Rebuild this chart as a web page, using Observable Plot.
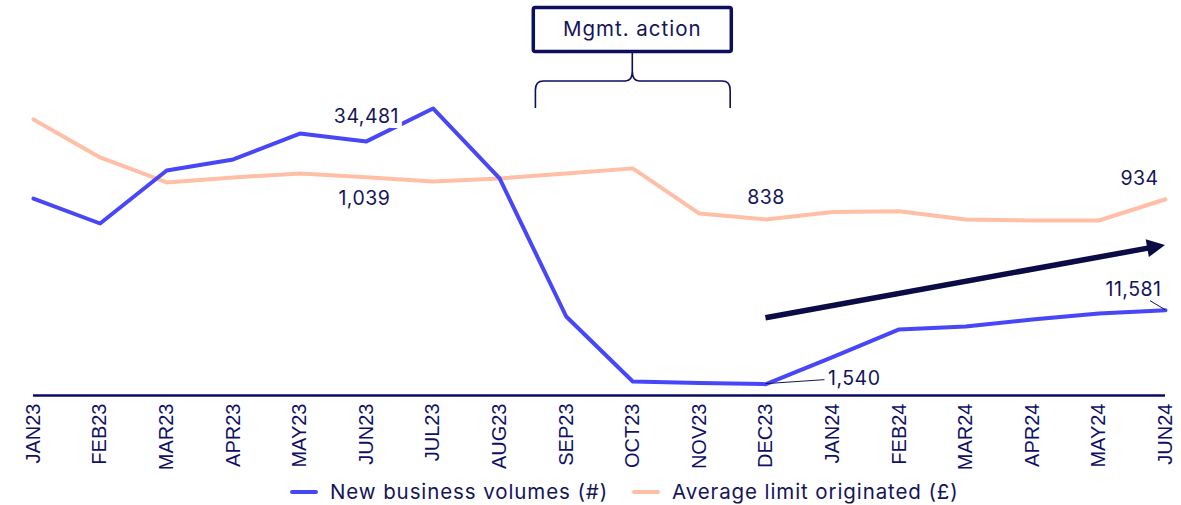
<!DOCTYPE html>
<html><head><meta charset="utf-8">
<script src="https://cdn.jsdelivr.net/npm/d3@7"></script>
<script src="https://cdn.jsdelivr.net/npm/@observablehq/plot@0.6"></script>
<style>
body{margin:0;background:#fff;}
#chart{position:relative;width:1181px;height:505px;overflow:hidden;}
.legend{position:absolute;left:290px;top:478px;height:27px;display:flex;align-items:center;font-family:Inter,"Noto Sans",sans-serif;font-size:20.5px;letter-spacing:0.9px;color:#14145a;white-space:nowrap;}
.legend .sw{display:inline-block;width:28px;height:4px;border-radius:2px;margin-right:12px;}
.legend .item{display:flex;align-items:center;margin-right:24px;}
</style></head><body><div id="chart"></div>
<script>
const months = ["JAN23","FEB23","MAR23","APR23","MAY23","JUN23","JUL23","AUG23","SEP23","OCT23","NOV23","DEC23","JAN24","FEB24","MAR24","APR24","MAY24","JUN24"];
const volumes = [26730, 23340, 30530, 32030, 35550, 34481, 38950, 29450, 10720, 1900, 1700, 1540, 5220, 8960, 9360, 10310, 11130, 11581];
const avgLimit = [1314, 1133, 1014, 1038, 1057, 1039, 1019, 1033, 1057, 1081, 866, 838, 873, 877, 838, 833, 833, 934];
const seriesNames = ["New business volumes (#)", "Average limit originated (£)"];
const volumeLabelIdx = [5, 11, 17];
const limitLabelIdx = [5, 11, 17];
const annotationText = "Mgmt. action";
const actionCenterIdx = 9;   // OCT23
const trendFromIdx = 11, trendToIdx = 17;

const BLUE = "#4747f7", PEACH = "#ffbfa6", NAVY = "#14145a", DARK = "#0b0b45";
const LIMIT_SCALE = 28.51; // secondary axis ratio (volumes per £ of average limit)
const fmt = d3.format(",");

const volData = volumes.map((v, i) => ({i, v, y: v}));
const limData = avgLimit.map((v, i) => ({i, v, y: v * LIMIT_SCALE}));

const W = 1181, H = 478;
const yMax = 53600;

function annotations(index, scales, values, dims) {
  const x = scales.x, y = scales.y;
  const g = d3.create("svg:g");
  // Mgmt. action box
  const cx = x(actionCenterIdx);
  const bx0 = cx - 99, bx1 = cx + 99, by0 = 7.5, by1 = 51.5;
  g.append("rect").attr("x", bx0).attr("y", by0).attr("width", bx1 - bx0).attr("height", by1 - by0)
    .attr("rx", 2).attr("fill", "white").attr("stroke", "#0e0e5e").attr("stroke-width", 3.5);
  g.append("text").attr("x", cx).attr("y", (by0 + by1) / 2 - 1).attr("dy", "0.35em")
    .attr("text-anchor", "middle").attr("font-family", "Inter, sans-serif").attr("font-size", 20.5)
    .attr("letter-spacing", "1px").attr("fill", NAVY).text(annotationText);
  // brace
  const L = x(actionCenterIdx - 1.455), R = x(actionCenterIdx + 1.47);
  const yb = 108, ym = 81, ys = by1;
  const p = `M${L},${yb} L${L},${ym + 9} Q${L},${ym} ${L + 8},${ym} L${cx - 7},${ym} Q${cx},${ym} ${cx},${ym - 10} L${cx},${ys}`
          + ` M${R},${yb} L${R},${ym + 9} Q${R},${ym} ${R - 8},${ym} L${cx + 7},${ym} Q${cx},${ym} ${cx},${ym - 10}`;
  g.append("path").attr("d", p).attr("fill", "none").attr("stroke", "#0e0e5e").attr("stroke-width", 1.6);
  // trend arrow
  const ax0 = x(trendFromIdx), ay0 = y(10490), ax1 = x(trendToIdx), ay1 = y(20355);
  const ang = Math.atan2(ay1 - ay0, ax1 - ax0);
  const hl = 18, hw = 9;
  const bxp = ax1 - hl * Math.cos(ang), byp = ay1 - hl * Math.sin(ang);
  g.append("line").attr("x1", ax0).attr("y1", ay0).attr("x2", bxp + 2 * Math.cos(ang)).attr("y2", byp + 2 * Math.sin(ang))
    .attr("stroke", DARK).attr("stroke-width", 5.5);
  g.append("polygon").attr("points", [
    [ax1, ay1],
    [bxp - hw * Math.sin(ang), byp + hw * Math.cos(ang)],
    [bxp + hw * Math.sin(ang), byp - hw * Math.cos(ang)]
  ].map(d => d.join(",")).join(" ")).attr("fill", DARK);
  // leader lines
  const j = volData[17];
  g.append("line").attr("x1", x(j.i)).attr("y1", y(j.y)).attr("x2", x(j.i) - 15).attr("y2", y(j.y) - 9)
    .attr("stroke", NAVY).attr("stroke-width", 1);
  const d = volData[11];
  g.append("line").attr("x1", x(d.i)).attr("y1", y(d.y)).attr("x2", x(d.i) + 59).attr("y2", y(d.y) - 4)
    .attr("stroke", NAVY).attr("stroke-width", 1);
  return g.node();
}

const labelOffsets = {
  vol: {5: {dx: 0, dy: -24.5, anchor: "middle"}, 11: {dx: 62, dy: -5, anchor: "start"}, 17: {dx: -32, dy: -20, anchor: "middle"}},
  lim: {5: {dx: -2, dy: 22, anchor: "middle"}, 11: {dx: 0, dy: -21.5, anchor: "middle"}, 17: {dx: -26, dy: -21, anchor: "middle"}}
};
function labelMarks(data, idxs, key, extra = {}) {
  return idxs.map(k => {
    const o = labelOffsets[key][k];
    return Plot.text([data[k]], {x: "i", y: "y", text: d => fmt(d.v), dx: o.dx, dy: o.dy,
      textAnchor: o.anchor, fontFamily: "Inter, sans-serif", fontSize: 19.5, fill: NAVY, ...extra});
  });
}

const plot = Plot.plot({
  width: W, height: H,
  marginLeft: 33, marginRight: 16, marginTop: 0, marginBottom: H - 395,
  x: {type: "linear", domain: [0, 17]},
  y: {domain: [0, yMax], axis: null},
  style: {fontFamily: "'Liberation Sans', Arial, sans-serif", color: NAVY, background: "white", overflow: "visible"},
  marks: [
    Plot.axisX({ticks: d3.range(months.length), tickFormat: i => months[i], tickRotate: -90, tickSize: 0, tickPadding: 8, fontSize: 20, fill: "#0f0f66", label: null}),
    Plot.line(limData, {x: "i", y: "y", stroke: PEACH, strokeWidth: 4}),
    Plot.line(volData, {x: "i", y: "y", stroke: BLUE, strokeWidth: 4}),
    ...labelMarks(volData, [5], "vol", {stroke: "white", strokeWidth: 10, strokeLinejoin: "miter"}),
    ...labelMarks(volData, [11, 17], "vol"),
    ...labelMarks(limData, limitLabelIdx, "lim"),
    Plot.ruleY([0], {stroke: "#0a0a6a", strokeWidth: 2.5}),
    annotations
  ]
});

const chart = document.getElementById("chart");
chart.appendChild(plot);
plot.querySelectorAll("text").forEach(t => { if (t.getAttribute("font-family") === null && t.closest("[font-family*='Inter']")) t.setAttribute("letter-spacing", "0.5px"); });
const legend = document.createElement("div");
legend.className = "legend";
legend.innerHTML = `<span class="item"><span class="sw" style="background:${BLUE}"></span>${seriesNames[0]}</span>`
  + `<span class="item"><span class="sw" style="background:${PEACH}"></span>${seriesNames[1]}</span>`;
chart.appendChild(legend);
</script>
</body></html>
